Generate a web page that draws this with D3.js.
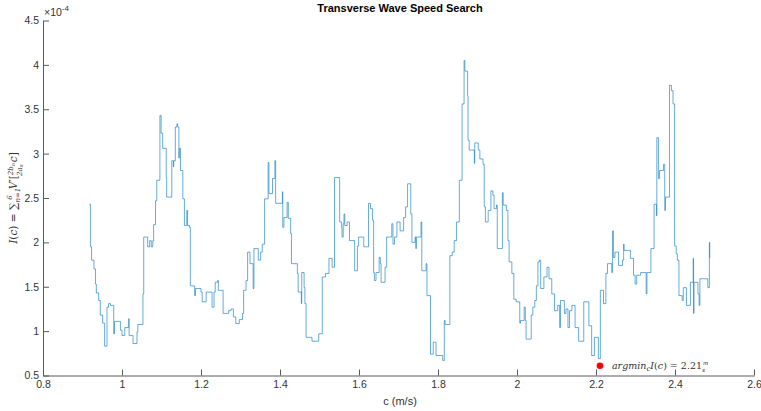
<!DOCTYPE html>
<html>
<head>
<meta charset="utf-8">
<title>Transverse Wave Speed Search</title>
<script src="https://cdn.jsdelivr.net/npm/d3@7"></script>
<style>
body { margin: 0; background: #fff; }
svg { font-family: "Liberation Sans", Arial, sans-serif; }
.axis path, .axis line { stroke: #5a5a5a; }
.axis text { fill: #333; font-size: 10.5px; }
.tex { font-family: "DejaVu Serif", "Liberation Serif", serif; font-style: italic; fill: #333; }
</style>
</head>
<body>
<script>
// wave speed c (m/s) and cost I(c), in units of 1e-4
var speeds = [
  0.917,0.920,0.923,0.929,0.933,0.935,0.941,0.945,0.951,0.956,
  0.962,0.966,0.971,0.979,0.981,0.996,1.000,1.007,1.017,1.018,
  1.028,1.038,1.040,1.053,1.055,1.065,1.070,1.074,1.078,1.080,
  1.085,1.088,1.096,1.099,1.103,1.112,1.113,1.126,1.130,1.131,
  1.135,1.139,1.141,1.144,1.145,1.148,1.154,1.158,1.164,1.166,
  1.171,1.173,1.184,1.186,1.200,1.203,1.213,1.228,1.233,1.236,
  1.242,1.244,1.256,1.270,1.276,1.282,1.288,1.297,1.305,1.308,
  1.314,1.318,1.324,1.332,1.334,1.345,1.351,1.355,1.361,1.370,
  1.372,1.381,1.387,1.389,1.406,1.407,1.410,1.418,1.421,1.427,
  1.429,1.444,1.446,1.454,1.455,1.461,1.463,1.466,1.481,1.498,
  1.507,1.515,1.524,1.532,1.538,1.551,1.556,1.557,1.560,1.562,
  1.564,1.570,1.576,1.589,1.596,1.599,1.612,1.624,1.629,1.634,
  1.637,1.639,1.643,1.651,1.654,1.656,1.666,1.670,1.683,1.686,
  1.690,1.696,1.704,1.713,1.718,1.723,1.731,1.734,1.742,1.744,
  1.745,1.757,1.759,1.770,1.772,1.781,1.788,1.795,1.812,1.816,
  1.818,1.830,1.836,1.841,1.847,1.854,1.861,1.866,1.868,1.875,
  1.876,1.879,1.892,1.893,1.902,1.906,1.914,1.917,1.920,1.927,
  1.934,1.939,1.942,1.948,1.950,1.963,1.965,1.973,1.977,1.980,
  1.987,1.992,1.998,2.007,2.009,2.018,2.021,2.023,2.036,2.040,
  2.045,2.049,2.053,2.057,2.060,2.068,2.076,2.081,2.088,2.095,
  2.103,2.108,2.110,2.120,2.124,2.129,2.133,2.139,2.147,2.156,
  2.169,2.182,2.189,2.196,2.206,2.211,2.219,2.225,2.229,2.240,
  2.242,2.244,2.248,2.257,2.267,2.270,2.271,2.287,2.295,2.299,
  2.303,2.313,2.327,2.329,2.339,2.347,2.353,2.354,2.358,2.361,
  2.371,2.374,2.376,2.386,2.391,2.395,2.399,2.403,2.406,2.410,
  2.418,2.421,2.429,2.439,2.446,2.447,2.448,2.458,2.461,2.463,
  2.483,2.487,2.488,2.489
];
var costs = [
  2.43,1.95,1.80,1.70,1.53,1.43,1.345,1.18,1.09,0.83,
  1.27,1.31,1.29,0.97,1.11,1.01,0.95,1.04,1.14,0.95,
  0.86,0.99,1.075,1.42,2.06,1.95,2.02,1.95,2.02,2.2,
  2.47,2.70,3.43,3.23,3.06,2.73,2.51,2.92,2.85,2.92,
  3.30,3.335,3.30,2.95,3.06,2.81,2.49,2.19,2.36,2.19,
  2.17,1.51,1.40,1.48,1.44,1.33,1.44,1.27,1.44,1.55,
  1.57,1.46,1.20,1.23,1.25,1.16,1.085,1.13,1.20,1.46,
  1.57,1.89,1.76,1.48,1.93,1.80,1.89,1.98,2.49,2.90,
  2.55,2.72,2.92,2.44,2.57,2.17,2.28,2.45,2.27,2.10,
  1.76,1.65,1.44,1.31,1.66,1.49,1.31,0.93,0.886,0.97,
  1.61,1.65,1.82,1.72,2.73,2.23,2.17,2.06,2.21,2.32,
  2.19,2.23,2.02,1.68,1.96,2.06,1.95,2.44,2.38,2.25,
  1.66,1.57,1.66,1.83,1.76,1.55,1.72,2.06,2.21,1.98,
  2.06,2.23,2.13,2.28,2.40,2.66,2.32,2.00,2.06,1.93,
  2.06,2.23,1.68,1.76,1.40,0.74,0.875,0.725,0.67,1.12,
  1.075,1.85,1.89,2.02,2.23,2.70,3.56,4.05,3.93,3.65,
  3.15,3.04,2.89,3.12,3.04,2.94,2.88,2.40,2.23,2.36,
  2.58,2.53,2.38,2.42,1.93,2.56,2.42,2.36,2.02,1.78,
  1.65,1.36,1.33,1.09,1.12,1.27,1.12,0.91,1.18,1.27,
  1.345,1.51,1.78,1.80,1.48,1.61,1.72,1.59,1.42,1.23,
  1.29,1.04,1.345,1.20,1.25,1.04,1.23,1.29,1.04,0.886,
  1.33,1.06,0.725,0.93,0.69,1.46,1.31,1.65,1.76,1.66,
  2.13,1.83,1.89,1.74,1.80,1.98,1.91,1.82,1.63,1.53,
  1.63,1.66,1.42,1.66,1.93,2.43,2.30,3.18,2.72,2.81,
  2.88,2.36,2.51,3.77,3.71,3.56,1.96,1.87,1.80,1.40,
  1.345,1.49,1.29,1.55,1.82,1.20,1.55,1.42,1.29,1.59,
  1.49,2.00,1.83,1.83
];
var xTicks = [0.8, 1, 1.2, 1.4, 1.6, 1.8, 2, 2.2, 2.4, 2.6];
var yTicks = [0.5, 1, 1.5, 2, 2.5, 3, 3.5, 4, 4.5];
var bestSpeed = [2.21];
var bestCost = [0.61];

var width = 761, height = 411;
var margin = { top: 20.5, right: 7, bottom: 35.5, left: 43 };

var svg = d3.select("body").append("svg")
  .attr("width", width).attr("height", height);

var x = d3.scaleLinear().domain([0.8, 2.6]).range([margin.left, width - margin.right]);
var y = d3.scaleLinear().domain([0.5, 4.5]).range([height - margin.bottom, margin.top]);

// axes, MATLAB style: ticks pointing inward, no box
svg.append("g").attr("class", "axis")
  .attr("transform", "translate(0," + (height - margin.bottom) + ")")
  .call(d3.axisBottom(x).tickValues(xTicks).tickFormat(d3.format("")).tickSizeInner(-6).tickSizeOuter(0).tickPadding(5));

svg.append("g").attr("class", "axis")
  .attr("transform", "translate(" + margin.left + ",0)")
  .call(d3.axisLeft(y).tickValues(yTicks).tickFormat(d3.format("")).tickSizeInner(-6).tickSizeOuter(0).tickPadding(4));

// exponent marker
var ex = svg.append("text").attr("x", margin.left + 1).attr("y", 16)
  .attr("font-size", 10.5).attr("fill", "#333");
ex.append("tspan").text("\u00d710");
ex.append("tspan").attr("dy", -5).attr("font-size", 8).text("-4");

// the curve
var pts = speeds.map(function(c, i) { return [c, costs[i]]; });
var line = d3.line()
  .x(function(d) { return x(d[0]); })
  .y(function(d) { return y(d[1]); })
  .curve(d3.curveStepAfter);

svg.append("path")
  .datum(pts)
  .attr("d", line)
  .attr("fill", "none")
  .attr("stroke", "#0072BD")
  .attr("stroke-width", 0.7)
  .attr("stroke-opacity", 0.85);

// minimum marker
svg.selectAll(".best").data(bestSpeed).enter().append("circle")
  .attr("class", "best")
  .attr("cx", function(d) { return x(d); })
  .attr("cy", function(d, i) { return y(bestCost[i]); })
  .attr("r", 3.3)
  .attr("fill", "#ff0000");

var ann = svg.append("text").attr("class", "tex")
  .attr("x", x(bestSpeed[0]) + 12).attr("y", y(bestCost[0]) + 3.5)
  .attr("font-size", 9.5);
ann.append("tspan").text("argmin");
ann.append("tspan").attr("dy", 2).attr("font-size", 7).text("c");
ann.append("tspan").attr("dy", -2).text("I");
ann.append("tspan").attr("font-style", "normal").text("(");
ann.append("tspan").text("c");
ann.append("tspan").attr("font-style", "normal").text(") = " + bestSpeed[0].toFixed(2));
ann.append("tspan").attr("dx", 1).attr("dy", -4).attr("font-size", 5.5).text("m");
ann.append("tspan").attr("dx", -6).attr("dy", 7).attr("font-size", 5.5).text("s");

// title and axis labels
svg.append("text")
  .attr("x", 400).attr("y", 12)
  .attr("text-anchor", "middle")
  .attr("font-size", 11).attr("font-weight", "bold").attr("fill", "#000")
  .text("Transverse Wave Speed Search");

svg.append("text")
  .attr("x", 400).attr("y", 405)
  .attr("text-anchor", "middle")
  .attr("font-size", 11).attr("fill", "#333")
  .text("c (m/s)");

var yl = svg.append("text").attr("class", "tex")
  .attr("transform", "translate(17," + (margin.top + (height - margin.bottom - margin.top) / 2) + ") rotate(-90)")
  .attr("text-anchor", "middle")
  .attr("font-size", 10.5);
yl.append("tspan").text("I");
yl.append("tspan").attr("font-style", "normal").text("(");
yl.append("tspan").text("c");
yl.append("tspan").attr("font-style", "normal").text(") = \u2211");
yl.append("tspan").attr("dy", 3).attr("font-size", 7).text("n=1");
yl.append("tspan").attr("dx", -12).attr("dy", -8).attr("font-size", 7).text("6");
yl.append("tspan").attr("dx", 6).attr("dy", 5).text("V");
yl.append("tspan").attr("font-style", "normal").text("\u2032[");
yl.append("tspan").attr("dy", -4).attr("font-size", 7).text("2b");
yl.append("tspan").attr("dy", 2).attr("font-size", 5).text("n");
yl.append("tspan").attr("dx", -13).attr("dy", 7).attr("font-size", 7).text("2a");
yl.append("tspan").attr("dy", 1).attr("font-size", 5).text("n");
yl.append("tspan").attr("dx", 2).attr("dy", -6).text("c");
yl.append("tspan").attr("font-style", "normal").text("]");
</script>
</body>
</html>
